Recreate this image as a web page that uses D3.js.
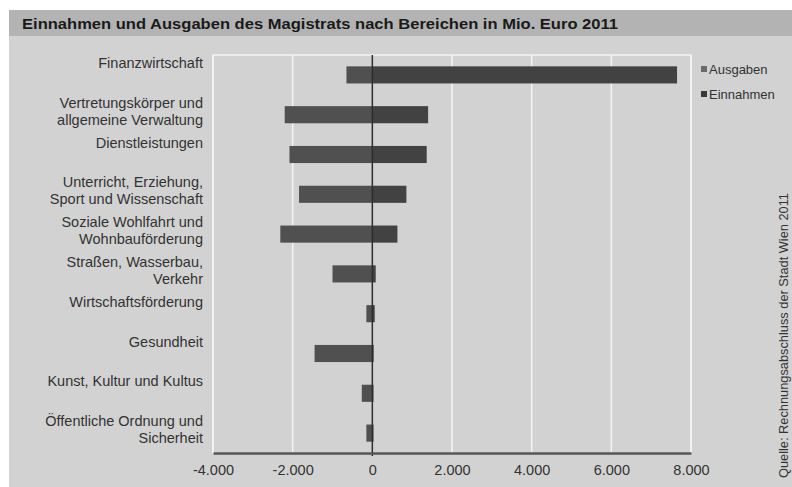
<!DOCTYPE html>
<html>
<head>
<meta charset="utf-8">
<script src="https://cdn.jsdelivr.net/npm/d3@7"></script>
<style>
  body { margin: 0; background: #fff; }
  svg { display: block; font-family: "Liberation Sans", Arial, sans-serif; }
</style>
</head>
<body>
<script>
// Daten (Mio. Euro, 2011)
var categories = [
  "Finanzwirtschaft",
  "Vertretungskörper und\nallgemeine Verwaltung",
  "Dienstleistungen",
  "Unterricht, Erziehung,\nSport und Wissenschaft",
  "Soziale Wohlfahrt und\nWohnbauförderung",
  "Straßen, Wasserbau,\nVerkehr",
  "Wirtschaftsförderung",
  "Gesundheit",
  "Kunst, Kultur und Kultus",
  "Öffentliche Ordnung und\nSicherheit"
];
var ausgaben  = [-650, -2200, -2080, -1840, -2310, -1000, -150, -1450, -265, -150];
var einnahmen = [7650, 1400, 1365, 855, 630, 85, 60, 35, 30, 30];
var xTicks = [-4000, -2000, 0, 2000, 4000, 6000, 8000];
var seriesNames = ["Ausgaben", "Einnahmen"];
var seriesColors = ["#505050", "#424242"];

var title = "Einnahmen und Ausgaben des Magistrats nach Bereichen in Mio. Euro 2011";
var source = "Quelle: Rechnungsabschluss der Stadt Wien 2011";

var width = 792, height = 487;

var svg = d3.select("body").append("svg")
  .attr("width", width).attr("height", height);

// Hintergrund
svg.append("rect").attr("x", 9).attr("y", 10).attr("width", width - 9).attr("height", height - 10)
  .attr("fill", "#d2d2d2");
svg.append("rect").attr("x", 9).attr("y", 10).attr("width", width - 9).attr("height", 26)
  .attr("fill", "#b3b3b3");
svg.append("text").attr("x", 22).attr("y", 29)
  .attr("font-size", 15).attr("font-weight", "bold").attr("fill", "#1a1a1a")
  .attr("textLength", 596).attr("lengthAdjust", "spacingAndGlyphs")
  .text(title);

var x = d3.scaleLinear().domain([-4000, 8000]).range([213, 691]);
var y = d3.scaleBand().domain(categories).range([55, 453])
  .paddingInner(0.57).paddingOuter(0.285);

var de = d3.formatLocale({ decimal: ",", thousands: ".", grouping: [3], currency: ["", " €"], minus: "-" });
var fmt = de.format(",");

// Rahmen + Gitter
svg.append("rect").attr("x", x(-4000)).attr("y", 55)
  .attr("width", x(8000) - x(-4000)).attr("height", 453 - 55)
  .attr("fill", "none").attr("stroke", "#f4f4f4").attr("stroke-width", 1.5);

svg.append("g").selectAll("line")
  .data(xTicks.filter(function (d) { return d !== 0; }))
  .enter().append("line")
  .attr("x1", function (d) { return x(d); }).attr("x2", function (d) { return x(d); })
  .attr("y1", 55).attr("y2", 453)
  .attr("stroke", "#f4f4f4").attr("stroke-width", 1.5);

// Balken
var step = y.step(), bw = y.bandwidth();
[ausgaben, einnahmen].forEach(function (vals, s) {
  svg.append("g").selectAll("rect")
    .data(vals)
    .enter().append("rect")
    .attr("x", function (d) { return x(Math.min(0, d)); })
    .attr("y", function (d, i) { return y(categories[i]); })
    .attr("width", function (d) { return Math.abs(x(d) - x(0)); })
    .attr("height", bw)
    .attr("fill", seriesColors[s]);
});

// Nulllinie
svg.append("line").attr("x1", x(0)).attr("x2", x(0)).attr("y1", 55).attr("y2", 456)
  .attr("stroke", "#2e2e2e").attr("stroke-width", 1.5);

// x-Achse
var xAxis = d3.axisBottom(x).tickValues(xTicks).tickFormat(fmt).tickSize(0).tickPadding(12);
var gx = svg.append("g").attr("transform", "translate(0,453)").call(xAxis);
gx.select(".domain").attr("stroke", "#555").attr("stroke-width", 2.5);
gx.selectAll("text").attr("font-size", 14.5).attr("fill", "#333")
  .attr("font-family", "\"Liberation Sans\", Arial, sans-serif");

// Kategorien
var labels = svg.append("g").selectAll("text")
  .data(categories)
  .enter().append("text")
  .attr("text-anchor", "end")
  .attr("font-size", 14.5).attr("fill", "#333")
  .attr("y", function (d) { return y(d) + bw / 2 - step / 2 + 13; });
labels.selectAll("tspan")
  .data(function (d) { return d.split("\n"); })
  .enter().append("tspan")
  .attr("x", 203)
  .attr("dy", function (d, i) { return i === 0 ? 0 : 17; })
  .text(function (d) { return d; });

// Legende
var leg = svg.append("g").selectAll("g")
  .data(seriesNames)
  .enter().append("g")
  .attr("transform", function (d, i) { return "translate(701," + (69 + i * 25) + ")"; });
leg.append("rect").attr("x", 0).attr("y", -3).attr("width", 6).attr("height", 6)
  .attr("fill", function (d, i) { return i === 0 ? "#6a6a6a" : "#3a3a3a"; });
leg.append("text").attr("x", 8).attr("y", 4.5)
  .attr("font-size", 13).attr("fill", "#333")
  .text(function (d) { return d; });

// Quelle
svg.append("text")
  .attr("transform", "translate(788,478) rotate(-90)")
  .attr("font-size", 12).attr("fill", "#333")
  .attr("textLength", 285).attr("lengthAdjust", "spacingAndGlyphs")
  .text(source);
</script>
</body>
</html>
